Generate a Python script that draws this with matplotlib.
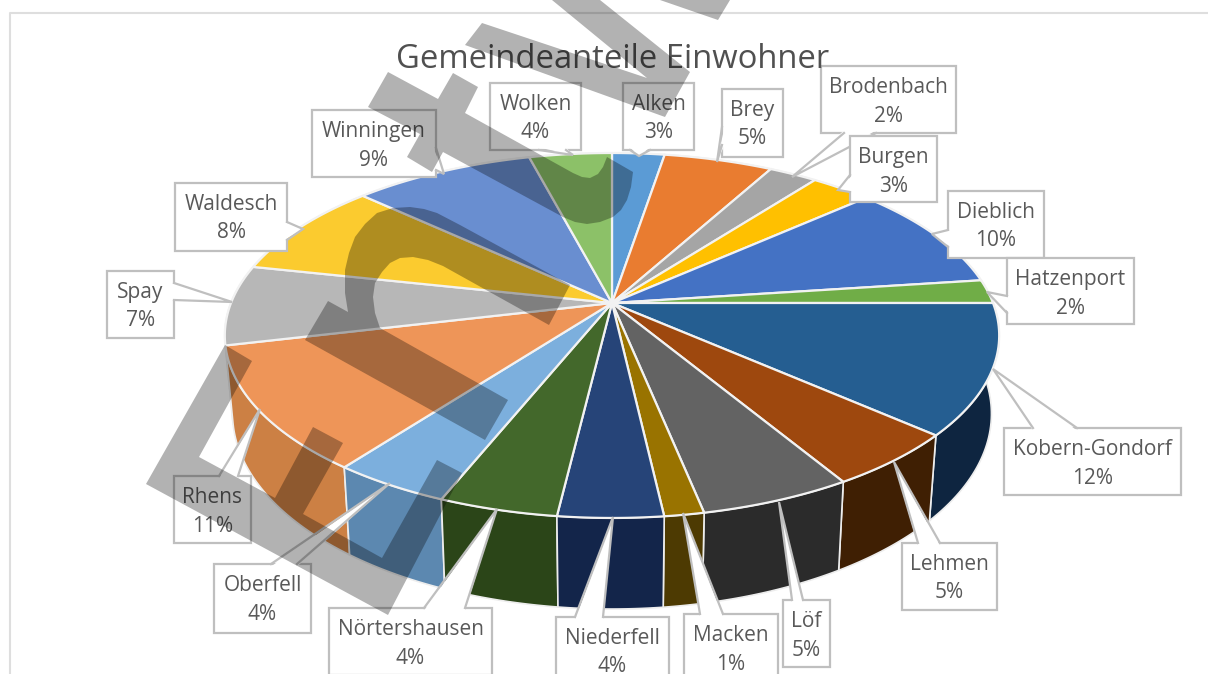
import numpy as np
import matplotlib
matplotlib.use("Agg")
import matplotlib.pyplot as plt
from matplotlib.patches import Polygon, Rectangle

# shares in percent, clockwise from 12 o'clock
names = ["Alken", "Brey", "Brodenbach", "Burgen", "Dieblich", "Hatzenport",
         "Kobern-Gondorf", "Lehmen", "Löf", "Macken", "Niederfell", "Nörtershausen",
         "Oberfell", "Rhens", "Spay", "Waldesch", "Winningen", "Wolken"]
shares = [2.6, 5.4, 2.4, 3.0, 9.5, 2.1, 11.5, 4.9, 5.4, 1.4, 3.7, 4.2, 4.2, 11.0, 7.1, 8.5, 9.0, 4.1]
percent_labels = ["3%", "5%", "2%", "3%", "10%", "2%", "12%", "5%", "5%", "1%", "4%", "4%",
                  "4%", "11%", "7%", "8%", "9%", "4%"]
title = "Gemeindeanteile Einwohner"

top_colors = ["#5B9BD5", "#E97C30", "#A5A5A5", "#FFC000", "#4472C4", "#70AD47", "#255E91", "#9E480E",
              "#636363", "#997300", "#264478", "#43682B", "#7CAFDD", "#EE9558", "#B7B7B7", "#FBCB2F",
              "#698ED0", "#8CC168"]
side_colors = ["#2A4A66", "#6E3A17", "#4D4D4D", "#775A00", "#20365C", "#34521F", "#0E2540", "#3F1F03",
               "#2B2B2B", "#4D3A02", "#13254A", "#2B4518", "#5C88B0", "#CC8044", "#8C8C8C", "#B08C20",
               "#4A6598", "#6A9048"]

# label boxes: left, top, right, bottom and the callout (base a, base b, tip)
boxes = [(623, 83, 694, 150), (722, 89, 783, 157), (821, 66, 956, 133), (850, 136, 937, 202),
         (948, 191, 1044, 258), (1007, 258, 1134, 324), (1004, 428, 1181, 495), (902, 543, 997, 610),
         (783, 600, 830, 667), (684, 614, 778, 681), (556, 617, 669, 684), (329, 608, 492, 675),
         (214, 564, 311, 633), (174, 476, 251, 543), (107, 271, 174, 338), (175, 183, 287, 251),
         (312, 110, 436, 177), (490, 83, 581, 150)]
callouts = [((630, 150), (650, 150), (639, 156)), ((722, 127), (722, 145), (717, 162)),
            ((844, 133), (876, 133), (792, 177)), ((850, 175), (850, 192), (838, 190)),
            ((948, 230), (948, 247), (932, 234)), ((1007, 296), (1007, 313), (987, 292)),
            ((1033, 428), (1077, 428), (993, 369)), ((918, 543), (940, 543), (894, 462)),
            ((792, 600), (803, 600), (779, 502)), ((700, 614), (723, 614), (683, 513)),
            ((575, 617), (603, 617), (613, 517)), ((424, 608), (465, 608), (497, 509)),
            ((271, 564), (297, 564), (390, 483)), ((219, 476), (238, 476), (260, 409)),
            ((174, 283), (174, 300), (232, 302)), ((287, 222), (287, 240), (303, 229)),
            ((436, 148), (436, 170), (444, 174)), ((539, 150), (566, 150), (573, 155))]

# watermark shapes
wm_shapes = [
    [(552, 0), (600, 0), (690, 72), (665, 117), (465, 45), (482, 23), (647, 78)],
    [(660, 0), (730, 0), (718, 20)],
    [(388, 72), (438, 99), (453, 73), (478, 87), (465, 113), (573, 173), (582, 177), (590, 178), (598, 174),
     (603, 167), (607, 157), (633, 172), (631, 187), (627, 200), (621, 210), (613, 217), (600, 222), (587, 224),
     (575, 222), (563, 217), (443, 152), (432, 172), (407, 157), (420, 134), (368, 107)],
    [(570, 285), (549, 325), (443, 266), (428, 260), (413, 257), (400, 258), (390, 263), (382, 272), (375, 283),
     (373, 297), (375, 313), (380, 328), (508, 400), (485, 440), (305, 340), (328, 301), (348, 312), (345, 293),
     (345, 270), (349, 253), (355, 237), (365, 224), (377, 213), (393, 208), (410, 207), (424, 209), (437, 213),
     (460, 225)],
    [(225, 345), (252, 361), (199, 457), (275, 498), (313, 427), (343, 443), (303, 514), (382, 558),
     (437, 460), (462, 473), (388, 615), (146, 484)],
]

# pie geometry in pixels, with a simple perspective
cx, cy = 612, 303
rx, ry = 381, 176.7
persp = 0.178
shrink = 0.98


def rim(angle):
    X = np.sin(angle)
    Y = -np.cos(angle)
    d = 1 - persp * Y
    return cx + rx * X / d, cy + ry * Y / d


def lower(x, y):
    return cx + shrink * (x - cx), y + 76 + 0.07 * (y - cy)


plt.rcParams['font.family'] = ['Open Sans', 'DejaVu Sans']
fig = plt.figure(figsize=(12.08, 6.74), dpi=100)
ax = fig.add_axes([0, 0, 1, 1])
ax.set_xlim(0, 1208)
ax.set_ylim(674, 0)
ax.axis("off")

# chart frame, only left and top are in the crop
ax.plot([10, 10, 1208], [674, 12.5, 12.5], color="#DEDEDE", lw=1.5, zorder=1)

edges = np.cumsum([0] + shares) / np.sum(shares) * 2 * np.pi
arcs = []
for i in range(len(shares)):
    t = np.linspace(edges[i], edges[i + 1], 40)
    x, y = rim(t)
    arcs.append((x, y))

# side wall, back pieces first
order = np.argsort([a[1].mean() for a in arcs])
for n, i in enumerate(order):
    x, y = arcs[i]
    bx, by = lower(x, y)
    pts = np.column_stack([np.r_[x, bx[::-1]], np.r_[y, by[::-1]]])
    ax.add_patch(Polygon(pts, fc=side_colors[i], ec="#EDEDED", lw=1.2, zorder=2 + n * 0.01))

# top surface
for i in range(len(shares)):
    x, y = arcs[i]
    pts = np.column_stack([np.r_[cx, x], np.r_[cy, y]])
    ax.add_patch(Polygon(pts, fc=top_colors[i], ec="#F2F2F2", lw=1.6, joinstyle="round", zorder=3))

# callout labels
for i in range(len(names)):
    x0, y0, x1, y1 = boxes[i]
    a, b, tip = callouts[i]
    ax.add_patch(Rectangle((x0, y0), x1 - x0, y1 - y0, fc="white", ec="#BFBFBF", lw=1.6, zorder=4 + i * 0.01))
    mid = np.array([(x0 + x1) / 2, (y0 + y1) / 2])
    inner = []
    for p in (a, b):
        p = np.array(p, dtype=float)
        v = mid - p
        if p[0] in (x0, x1):
            p[0] += 2.5 * np.sign(v[0])
        else:
            p[1] += 2.5 * np.sign(v[1])
        inner.append(p)
    ax.add_patch(Polygon([inner[0], tip, inner[1]], fc="white", ec="none", zorder=4 + i * 0.01))
    ax.plot([a[0], tip[0], b[0]], [a[1], tip[1], b[1]], color="#BFBFBF", lw=1.6, zorder=4 + i * 0.01,
            solid_joinstyle="miter")
    xm = (x0 + x1) / 2
    ax.text(xm, y0 + 21.5, names[i], ha="center", va="center", fontsize=15, color="#595959",
            zorder=4.5 + i * 0.01)
    ax.text(xm, y0 + 50, percent_labels[i], ha="center", va="center", fontsize=15, color="#595959",
            zorder=4.5 + i * 0.01)

ax.text(613, 59, title, ha="center", va="center", fontsize=23.6, color="#505050", zorder=6)

# watermark on top of everything
for shape in wm_shapes:
    ax.add_patch(Polygon(shape, fc="black", ec="none", alpha=0.3, zorder=8))

fig.savefig("out.png", dpi=100)
